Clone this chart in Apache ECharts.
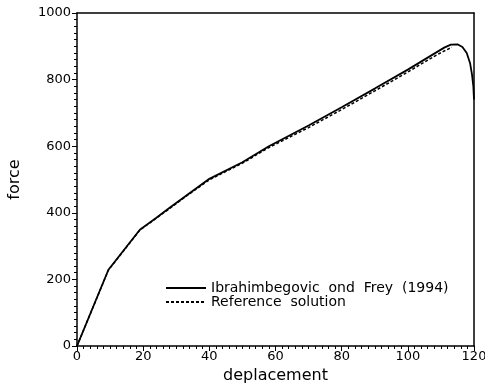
<!DOCTYPE html>
<html>
<head>
<meta charset="utf-8">
<script src="https://cdn.jsdelivr.net/npm/echarts@6/dist/echarts.min.js"></script>
<style>
    html, body { margin: 0; padding: 0; background: #fff; }
    #chart { width: 485px; height: 384px; }
</style>
</head>
<body>
<div id="chart"></div>
<script>
    // valeurs (deplacement, force)
    var dispSolid = [0, 9.5, 19, 24, 28, 34, 40, 50, 58, 70, 80, 90, 100, 108, 111, 113, 115, 116.5, 117.8, 118.8, 119.4, 119.8, 120];
    var forceSolid = [0, 229, 349, 385, 415, 459, 502, 552, 600, 662, 717, 773, 830, 878, 896, 905, 906, 898, 880, 850, 815, 780, 740];
    var dispRef = [0, 9.5, 19, 24, 28, 34, 40, 50, 58, 70, 80, 90, 100, 108, 111, 113.3];
    var forceRef = [0, 228, 348, 384, 413, 457, 499, 549, 596, 656, 710, 766, 823, 870, 886, 897];
    var xTicks = [0, 20, 40, 60, 80, 100, 120];
    var yTicks = [0, 200, 400, 600, 800, 1000];

    function pairs(xs, ys) {
        var out = [];
        for (var i = 0; i < xs.length; i++) out.push([xs[i], ys[i]]);
        return out;
    }

    var chart = echarts.init(document.getElementById('chart'));
    var font = 'DejaVu Sans, sans-serif';

    var option = {
        animation: false,
        grid: { left: 77, right: 11, top: 13, bottom: 38, outerBoundsMode: 'none' },
        legend: {
            orient: 'vertical',
            left: 160,
            top: 276,
            itemWidth: 40,
            itemHeight: 10,
            itemGap: 0,
            itemStyle: { opacity: 0 },
            textStyle: { fontFamily: font, fontSize: 14, color: '#000', lineHeight: 13 },
            data: ['Ibrahimbegovic  ond  Frey  (1994)', 'Reference  solution']
        },
        xAxis: [{
            type: 'value',
            min: xTicks[0],
            max: xTicks[xTicks.length - 1],
            interval: 20,
            name: 'deplacement',
            nameLocation: 'middle',
            nameGap: 22,
            nameTextStyle: { fontFamily: font, fontSize: 16, color: '#000' },
            axisLine: { lineStyle: { color: '#000', width: 1.5 } },
            axisTick: { length: 5, lineStyle: { color: '#000' } },
            minorTick: { show: true, splitNumber: 10, length: 3, lineStyle: { color: '#000' } },
            axisLabel: { fontFamily: font, fontSize: 13, color: '#000', margin: 4 },
            splitLine: { show: false }
        }, {
            type: 'value',
            position: 'top',
            min: 0, max: 120,
            axisLine: { show: true, onZero: false, lineStyle: { color: '#000', width: 1.5 } },
            axisTick: { show: false },
            axisLabel: { show: false },
            splitLine: { show: false }
        }],
        yAxis: [{
            type: 'value',
            min: yTicks[0],
            max: yTicks[yTicks.length - 1],
            interval: 200,
            name: 'force',
            nameLocation: 'middle',
            nameGap: 54,
            nameTextStyle: { fontFamily: font, fontSize: 16, color: '#000' },
            axisLine: { show: true, lineStyle: { color: '#000', width: 1.5 } },
            axisTick: { length: 5, lineStyle: { color: '#000' } },
            minorTick: { show: true, splitNumber: 10, length: 3, lineStyle: { color: '#000' } },
            axisLabel: {
                fontFamily: font, fontSize: 13, color: '#000', margin: 6,
                formatter: function (v) { return String(v); }
            },
            splitLine: { show: false }
        }, {
            type: 'value',
            position: 'right',
            min: 0, max: 1000,
            axisLine: { show: true, onZero: false, lineStyle: { color: '#000', width: 1.5 } },
            axisTick: { show: false },
            axisLabel: { show: false },
            splitLine: { show: false }
        }],
        series: [{
            name: 'Ibrahimbegovic  ond  Frey  (1994)',
            type: 'line',
            symbol: 'none',
            lineStyle: { color: '#000', width: 1.8, type: 'solid' },
            itemStyle: { color: '#000' },
            data: pairs(dispSolid, forceSolid)
        }, {
            name: 'Reference  solution',
            type: 'line',
            symbol: 'none',
            lineStyle: { color: '#000', width: 1.5, type: [3, 2] },
            itemStyle: { color: '#000' },
            data: pairs(dispRef, forceRef)
        }]
    };
    chart.setOption(option);
</script>
</body>
</html>
